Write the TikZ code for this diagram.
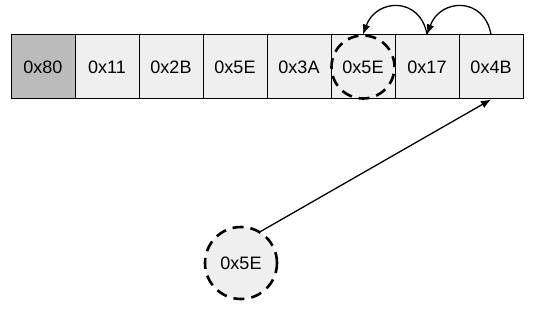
\documentclass[tikz,border=0pt]{standalone}
\usepackage{fontspec}
\setmainfont{Liberation Sans}
\usetikzlibrary{arrows.meta}
\definecolor{cellgray}{HTML}{EFEFEF}
\definecolor{darkcell}{HTML}{BBBBBB}
\tikzset{
  cell/.style={draw=black, line width=1pt, fill=cellgray, minimum size=64pt, inner sep=0pt, font=\fontsize{18}{20}\selectfont},
  dcircle/.style={circle, draw=black, line width=2.6pt, dash pattern=on 11pt off 7pt, inner sep=0pt, font=\fontsize{18}{20}\selectfont},
  arr/.style={line width=1.3pt, -{Latex[length=10pt,width=8pt]}}
}
\begin{document}
\begin{tikzpicture}[x=1pt,y=1pt]
\useasboundingbox (0,0) rectangle (535,-310);
\node[cell, fill=darkcell] (c1) at (43,-67) {0x80};
\node[cell] (c2) at (107,-67) {0x11};
\node[cell] (c3) at (171,-67) {0x2B};
\node[cell] (c4) at (235,-67) {0x5E};
\node[cell] (c5) at (299,-67) {0x3A};
\node[cell] (c6) at (363,-67) {0x5E};
\node[cell] (c7) at (427,-67) {0x17};
\node[cell] (c8) at (491,-67) {0x4B};
\node[dcircle, minimum size=63pt] (dc) at (363,-67) {};
\node[dcircle, fill=cellgray, minimum size=72pt] (b) at (241,-263) {0x5E};
\draw[arr] (c8.north) to[out=100,in=70,looseness=1.55] (c7.north);
\draw[arr] (c7.north) to[out=100,in=70,looseness=1.55] (c6.north);
\draw[arr] (b.58) -- (c8.south);
\end{tikzpicture}
\end{document}
